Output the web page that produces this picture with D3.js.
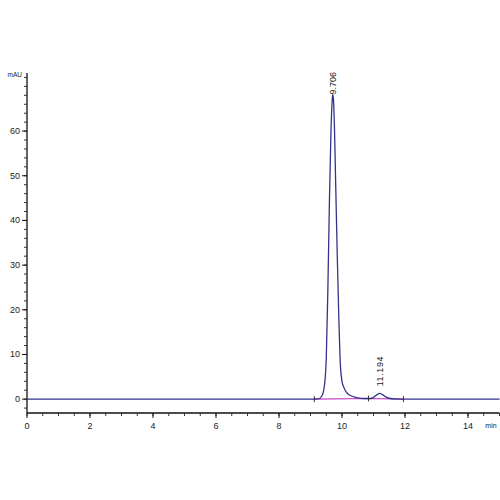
<!DOCTYPE html>
<html>
<head>
<meta charset="utf-8">
<script src="https://cdn.jsdelivr.net/npm/d3@7"></script>
<style>
  body { margin: 0; background: #fff; }
  text { font-family: "Liberation Sans", Arial, sans-serif; fill: #222; }
</style>
</head>
<body>
<script>
// trace (time in min, signal in mAU)
var times = [0, 9.0, 9.2, 9.3, 9.35, 9.40, 9.45, 9.50, 9.55, 9.60, 9.65, 9.69, 9.706, 9.73, 9.76, 9.80, 9.85, 9.90, 9.95, 10.0, 10.05, 10.1, 10.2, 10.3, 10.4, 10.5, 10.7, 10.9, 11.0, 11.1, 11.194, 11.3, 11.4, 11.5, 11.7, 12.0, 15.0];
var signal = [0, 0, 0.05, 0.2, 0.6, 1.4, 3.5, 9, 24, 44, 60, 67, 68.2, 67, 61, 48, 32, 18, 7.5, 4.0, 2.8, 2.0, 1.1, 0.7, 0.45, 0.3, 0.15, 0.15, 0.4, 0.95, 1.3, 0.95, 0.45, 0.2, 0.05, 0, 0];

// peaks: retention time, apex height
var peakTimes = [9.706, 11.194];
var peakHeights = [68.2, 1.3];
var peakLabels = ["9.706", "11.194"];
var labelGaps = [0, 7];

// integration baseline and peak start/end marks
var baseTimes = [9.12, 10.84, 11.95];
var baseValues = [0, 0.15, 0];

var xTicks = [0, 2, 4, 6, 8, 10, 12, 14];
var yTicks = [0, 10, 20, 30, 40, 50, 60];

var width = 500, height = 500;
var svg = d3.select("body").append("svg").attr("width", width).attr("height", height);

var x = d3.scaleLinear().domain([0, 15]).range([27, 499.5]);
var y = d3.scaleLinear().domain([-3.1, 73]).range([413, 73]);

// x axis
var gx = svg.append("g").attr("transform", "translate(0," + y.range()[0] + ")");
gx.append("line").attr("x1", x(0)).attr("x2", x(15)).attr("stroke", "#111").attr("stroke-width", 1.3);
gx.selectAll(".minor").data(d3.range(0, 15.01, 0.5)).enter().append("line")
  .attr("x1", d => x(d)).attr("x2", d => x(d)).attr("y1", 0).attr("y2", 3)
  .attr("stroke", "#333");
gx.selectAll(".major").data(xTicks).enter().append("line")
  .attr("x1", d => x(d)).attr("x2", d => x(d)).attr("y1", 0).attr("y2", 5)
  .attr("stroke", "#111");
gx.selectAll("text").data(xTicks).enter().append("text")
  .attr("x", d => x(d)).attr("y", 16).attr("text-anchor", "middle")
  .attr("font-size", 9).text(d => d);
gx.append("text").attr("x", 491).attr("y", 15).attr("font-size", 7).attr("text-anchor", "middle").text("min");

// y axis
var gy = svg.append("g").attr("transform", "translate(" + x(0) + ",0)");
gy.append("line").attr("y1", y(-3.1)).attr("y2", y(73)).attr("stroke", "#111").attr("stroke-width", 1.3);
gy.selectAll(".minor").data(d3.range(-2, 73, 2)).enter().append("line")
  .attr("y1", d => y(d)).attr("y2", d => y(d)).attr("x1", 0).attr("x2", -3)
  .attr("stroke", "#333");
gy.selectAll(".major").data(yTicks).enter().append("line")
  .attr("y1", d => y(d)).attr("y2", d => y(d)).attr("x1", 0).attr("x2", -5)
  .attr("stroke", "#111");
gy.selectAll("text").data(yTicks).enter().append("text")
  .attr("x", -7).attr("y", d => y(d) + 3).attr("text-anchor", "end")
  .attr("font-size", 9).text(d => d);
gy.append("text").attr("x", -5).attr("y", y(72.5) + 2).attr("text-anchor", "end")
  .attr("font-size", 6.5).text("mAU");

// integration baseline
var baseLine = d3.line().x(d => x(d[0])).y(d => y(d[1]));
svg.append("path").datum(d3.zip(baseTimes, baseValues))
  .attr("d", baseLine).attr("fill", "none").attr("stroke", "#c23cc2").attr("stroke-width", 1.2);

// trace
var trace = d3.line().x(d => x(d[0])).y(d => y(d[1])).curve(d3.curveMonotoneX);
svg.append("path").datum(d3.zip(times, signal))
  .attr("d", trace).attr("fill", "none").attr("stroke", "#33338a").attr("stroke-width", 1.3);

// start/end marks
svg.selectAll(".mark").data(baseTimes).enter().append("line")
  .attr("x1", d => x(d)).attr("x2", d => x(d))
  .attr("y1", (d, i) => y(baseValues[i]) - 3).attr("y2", (d, i) => y(baseValues[i]) + 3)
  .attr("stroke", "#222").attr("stroke-width", 0.9);

// peak labels
svg.selectAll(".plabel").data(peakTimes).enter().append("text")
  .attr("transform", (d, i) => "translate(" + (x(d) + 3.5) + "," + (y(peakHeights[i]) - labelGaps[i]) + ") rotate(-90)")
  .attr("font-size", 9).attr("letter-spacing", (d, i) => i ? 0.6 : 0).text((d, i) => peakLabels[i]);
</script>
</body>
</html>
